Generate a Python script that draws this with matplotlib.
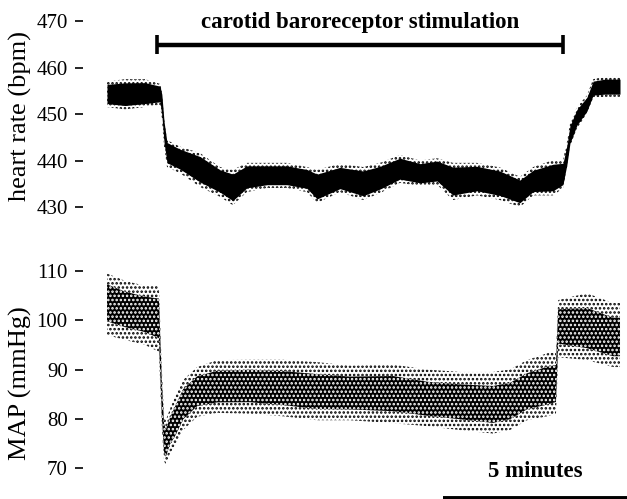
import matplotlib
matplotlib.use("Agg")
import matplotlib.pyplot as plt
import numpy as np

plt.rcParams["font.family"] = ["Liberation Serif", "DejaVu Serif"]
plt.rcParams["hatch.linewidth"] = 1.2

# Data -------------------------------------------------------------
# time in minutes, values = upper edge / centre / lower edge of the dot cloud
hr_time = [0.00, 0.49, 1.03, 1.44, 1.49, 1.55, 1.63, 1.98, 2.53, 3.07, 3.42, 3.80,
           4.35, 4.89, 5.43, 5.71, 6.33, 6.96, 7.42, 7.96, 8.51, 8.97, 9.40, 10.05,
           10.68, 11.22, 11.58, 12.12, 12.39, 12.50, 12.58, 12.77, 13.04, 13.21,
           13.53, 13.94]
hr_upper = [457.0, 457.5, 457.5, 456.5, 455.0, 449.0, 444.4, 443.0, 441.6, 438.6, 438.0, 439.5,
            439.5, 439.5, 438.6, 438.0, 439.3, 438.6, 439.5, 441.2, 440.0, 440.5, 439.5, 439.5,
            438.5, 436.5, 438.6, 440.1, 440.1, 444.0, 448.0, 451.5, 454.0, 457.5,
            458.0, 458.0]
hr_centre = [454.5, 454.3, 454.5, 454.5, 452.0, 446.5, 442.3, 440.8, 438.6, 436.2, 434.3, 436.9,
             436.9, 436.9, 436.5, 434.3, 436.2, 435.2, 436.5, 438.4, 437.3, 438.0, 435.8, 436.5,
             435.4, 433.7, 435.8, 436.5, 437.3, 441.6, 445.9, 449.4, 452.4, 455.8,
             456.0, 456.0]
hr_lower = [451.5, 451.0, 451.5, 452.0, 449.0, 443.0, 438.6, 437.3, 434.3, 432.2, 430.4, 433.2,
            434.1, 434.1, 433.2, 430.9, 433.2, 431.5, 433.0, 435.2, 434.5, 434.8, 431.5, 432.5,
            431.5, 430.0, 432.5, 432.5, 434.0, 438.5, 443.0, 447.0, 450.0, 453.5,
            453.7, 453.7]

map_time = [0.00, 0.49, 1.03, 1.41, 1.49, 1.55, 1.60, 1.71, 1.85, 2.07, 2.45, 2.99, 3.89,
            4.78, 5.71, 6.60, 7.77, 8.70, 9.59, 10.49, 10.95, 11.41, 11.96, 12.20, 12.26,
            13.04, 13.75, 13.94]
map_upper = [109.5, 108.0, 107.0, 107.0, 90.0, 81.0, 79.7, 82.0, 84.5, 87.9, 90.5, 91.9, 92.0,
             92.0, 91.5, 90.8, 91.0, 90.0, 89.5, 89.5, 90.0, 91.9, 93.3, 93.5, 104.1,
             105.5, 103.5, 103.5]
map_centre = [104.0, 102.5, 101.5, 100.5, 84.0, 76.0, 75.0, 77.5, 79.5, 83.2, 85.8, 86.5, 86.9,
              86.2, 85.4, 85.2, 85.2, 83.8, 83.2, 82.4, 83.2, 85.2, 86.5, 87.0, 99.4,
              98.0, 96.0, 96.0]
map_lower = [97.0, 96.0, 95.0, 93.6, 78.0, 71.5, 70.5, 73.0, 74.5, 77.7, 80.4, 81.2, 81.0,
             80.5, 79.7, 79.7, 79.1, 78.5, 77.7, 77.0, 77.7, 79.7, 80.5, 81.0, 92.5,
             91.9, 90.5, 90.5]

stim_on = 1.345    # minutes
stim_off = 12.40
scale_bar_min = 5

hr_ticks = [430, 440, 450, 460, 470]
map_ticks = [70, 80, 90, 100, 110]


# Draw one dot cloud as nested stippled bands ----------------------
def draw_cloud(ax, t, upper, centre, lower, core_frac, core_hatch):
    t = np.array(t)
    upper = np.array(upper)
    centre = np.array(centre)
    lower = np.array(lower)
    # sparse dots across the whole spread
    ax.fill_between(t, lower, upper, facecolor="none", edgecolor="black",
                    hatch="....", linewidth=0)
    # dense core around the centre
    core_hi = centre + core_frac * (upper - centre)
    core_lo = centre - core_frac * (centre - lower)
    ax.fill_between(t, core_lo, core_hi, facecolor="black", edgecolor="white",
                    hatch=core_hatch, linewidth=0)


def style_axis(ax, ticks):
    for s in ax.spines.values():
        s.set_visible(False)
    ax.set_xticks([])
    ax.set_yticks(ticks)
    ax.tick_params(axis="y", direction="out", length=6, width=1.2,
                   pad=5, labelsize=15)


fig = plt.figure(figsize=(6.27, 4.99), dpi=100)
ax_hr = fig.add_axes([0.1324, 0.5691, 0.8676, 0.4108])
ax_map = fig.add_axes([0.1324, 0.0, 0.8676, 0.489])

# Heart rate panel (nearly solid core)
draw_cloud(ax_hr, hr_time, hr_upper, hr_centre, hr_lower, 0.75, None)
style_axis(ax_hr, hr_ticks)
ax_hr.set_xlim(-0.652, 14.13)
ax_hr.set_ylim(428.28, 472.37)
ax_hr.set_ylabel("heart rate (bpm)", fontsize=19)
ax_hr.yaxis.set_label_coords(-0.094, 0.483)

# stimulation bar
ax_hr.plot([stim_on, stim_off], [464.95, 464.95], color="black", lw=3.2,
           solid_capstyle="butt", clip_on=False)
for xe in (stim_on, stim_off):
    ax_hr.plot([xe, xe], [462.9, 467.0], color="black", lw=2.6,
               solid_capstyle="butt", clip_on=False)
ax_hr.text((stim_on + stim_off) / 2, 468.5, "carotid baroreceptor stimulation",
           ha="center", va="baseline", fontsize=16.5, fontweight="bold")

# MAP panel (speckled core)
draw_cloud(ax_map, map_time, map_upper, map_centre, map_lower, 0.6, "....")
style_axis(ax_map, map_ticks)
ax_map.set_xlim(-0.652, 14.13)
ax_map.set_ylim(63.71, 113.25)
ax_map.set_ylabel("MAP (mmHg)", fontsize=19)
ax_map.yaxis.set_label_coords(-0.094, 0.475)

# 5 minute scale bar
x_end = ax_map.get_xlim()[1]
ax_map.plot([x_end - scale_bar_min, x_end], [63.9, 63.9], color="black", lw=2.8,
            solid_capstyle="butt", clip_on=False)
ax_map.text(x_end - scale_bar_min / 2, 68.2, "5 minutes", ha="center",
            va="baseline", fontsize=16.5, fontweight="bold")

fig.savefig("out.png", dpi=100)
